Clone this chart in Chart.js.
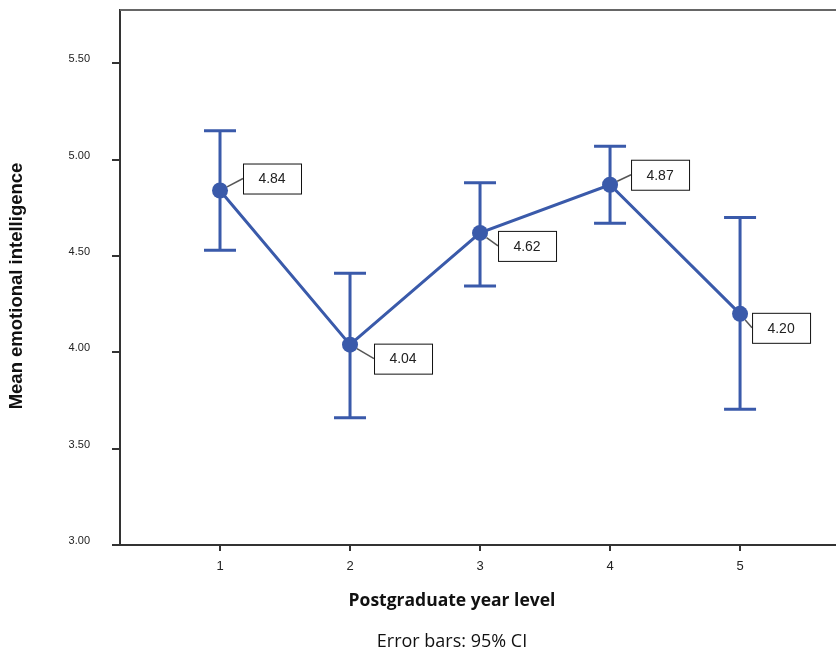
<!DOCTYPE html>
<html>
<head>
<meta charset="utf-8">
<script src="https://cdn.jsdelivr.net/npm/chart.js@4"></script>
<style>
    html, body { margin: 0; padding: 0; background: #fff; overflow: hidden; }
    #wrap { width: 836px; height: 653px; position: relative; }
</style>
</head>
<body>
<div id="wrap"><canvas id="chart" width="836" height="653"></canvas></div>
<script>
// --- data ---
const yearLevels = [1, 2, 3, 4, 5];
const meanEI = [4.84, 4.04, 4.62, 4.87, 4.20];
const ciLower = [4.53, 3.66, 4.345, 4.67, 3.705];
const ciUpper = [5.15, 4.41, 4.88, 5.07, 4.70];
const yTickValues = [3.0, 3.5, 4.0, 4.5, 5.0, 5.5];

const BLUE = '#3a5aaa';
const AXIS = '#333333';

// offsets of each value box (left/top) from its point, in px
const boxOffsets = [[23, -27], [24, -1], [18, -2], [21, -25], [12, -1]];

const errorBarPlugin = {
    id: 'errorBars',
    beforeDatasetsDraw(chart) {
        const { ctx, scales: { x, y } } = chart;
        ctx.save();
        ctx.strokeStyle = BLUE;
        ctx.lineWidth = 3;
        yearLevels.forEach((lvl, i) => {
            const px = x.getPixelForValue(lvl);
            const top = y.getPixelForValue(ciUpper[i]);
            const bot = y.getPixelForValue(ciLower[i]);
            ctx.beginPath();
            ctx.moveTo(px, top); ctx.lineTo(px, bot);
            ctx.moveTo(px - 16, top); ctx.lineTo(px + 16, top);
            ctx.moveTo(px - 16, bot); ctx.lineTo(px + 16, bot);
            ctx.stroke();
        });
        ctx.restore();
    }
};

const valueBoxPlugin = {
    id: 'valueBoxes',
    afterDatasetsDraw(chart) {
        const { ctx } = chart;
        const meta = chart.getDatasetMeta(0);
        ctx.save();
        meta.data.forEach((pt, i) => {
            const [dx, dy] = boxOffsets[i];
            const bx = pt.x + dx, by = pt.y + dy, bw = 58, bh = 30;
            // leader line from point edge to box
            const tx = bx, ty = by + bh / 2;
            const ang = Math.atan2(ty - pt.y, tx - pt.x);
            ctx.strokeStyle = '#555';
            ctx.lineWidth = 1.5;
            ctx.beginPath();
            ctx.moveTo(pt.x + Math.cos(ang) * 8, pt.y + Math.sin(ang) * 8);
            ctx.lineTo(tx, ty);
            ctx.stroke();
            ctx.fillStyle = '#fff';
            ctx.fillRect(bx, by, bw, bh);
            ctx.strokeStyle = '#111';
            ctx.lineWidth = 1;
            ctx.strokeRect(bx + 0.5, by + 0.5, bw, bh);
            ctx.fillStyle = '#222';
            ctx.font = '14px "Liberation Sans", Arial, sans-serif';
            ctx.textAlign = 'center';
            ctx.textBaseline = 'middle';
            ctx.fillText(meanEI[i].toFixed(2), bx + bw / 2, by + bh / 2 + 1);
        });
        ctx.restore();
    }
};

const framePlugin = {
    id: 'frameAndTitles',
    afterDraw(chart) {
        const { ctx, chartArea } = chart;
        ctx.save();
        // top border of the plot
        ctx.strokeStyle = '#666';
        ctx.lineWidth = 2;
        ctx.beginPath();
        ctx.moveTo(chartArea.left, chartArea.top);
        ctx.lineTo(chartArea.right, chartArea.top);
        ctx.stroke();

        ctx.fillStyle = '#111';
        ctx.textAlign = 'center';
        ctx.textBaseline = 'middle';
        ctx.font = 'bold 17.5px "Open Sans", sans-serif';
        ctx.fillText('Postgraduate year level', 452, 601);
        ctx.font = '18px "Open Sans", sans-serif';
        ctx.fillText('Error bars: 95% CI', 452, 642);

        ctx.translate(17, 286);
        ctx.rotate(-Math.PI / 2);
        ctx.font = 'bold 18.5px "Liberation Sans", Arial, sans-serif';
        ctx.fillText('Mean emotional intelligence', 0, 0);
        ctx.restore();
    }
};

new Chart(document.getElementById('chart'), {
    type: 'line',
    data: {
        datasets: [{
            data: yearLevels.map((lvl, i) => ({ x: lvl, y: meanEI[i] })),
            borderColor: BLUE,
            borderWidth: 3,
            pointRadius: 8,
            pointBackgroundColor: BLUE,
            pointBorderWidth: 0,
            tension: 0,
            clip: false
        }]
    },
    options: {
        responsive: false,
        animation: false,
        layout: { autoPadding: false, padding: { top: 10, right: 0, left: 0, bottom: 0 } },
        plugins: { legend: { display: false }, tooltip: { enabled: false } },
        scales: {
            x: {
                type: 'linear',
                min: 0.2308,
                max: 5.738,
                afterBuildTicks: axis => { axis.ticks = yearLevels.map(v => ({ value: v })); },
                afterFit: axis => {
                    axis.height = 108;
                    axis.paddingLeft = 0;
                    axis.paddingRight = 0;
                },
                ticks: {
                    callback: v => String(v),
                    color: '#222',
                    font: { family: '"Liberation Sans", Arial, sans-serif', size: 13 },
                    padding: 8
                },
                grid: { drawOnChartArea: false, tickLength: 6, color: AXIS, lineWidth: 2 },
                border: { color: AXIS, width: 2 }
            },
            y: {
                min: 3,
                max: 5.777,
                afterBuildTicks: axis => { axis.ticks = yTickValues.map(v => ({ value: v })); },
                afterFit: axis => {
                    axis.width = 120;
                    axis.paddingTop = 0;
                    axis.paddingBottom = 0;
                },
                ticks: {
                    callback: v => Number(v).toFixed(2),
                    color: '#222',
                    font: { family: '"Liberation Sans", Arial, sans-serif', size: 11 },
                    padding: 22,
                    labelOffset: -4
                },
                grid: { drawOnChartArea: false, tickLength: 8, color: AXIS, lineWidth: 2 },
                border: { color: AXIS, width: 2 }
            }
        }
    },
    plugins: [errorBarPlugin, valueBoxPlugin, framePlugin]
});
</script>
</body>
</html>
